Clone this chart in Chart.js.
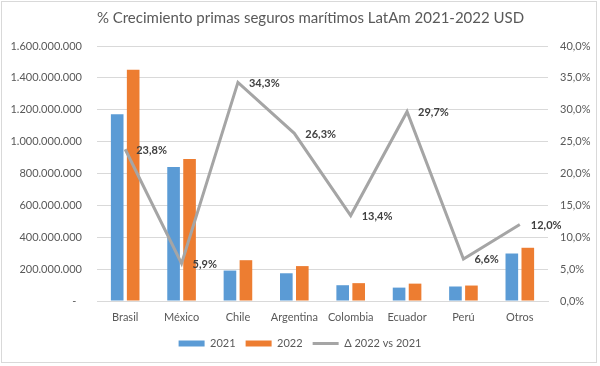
<!DOCTYPE html>
<html><head><meta charset="utf-8">
<script src="https://cdn.jsdelivr.net/npm/chart.js@4.4.1/dist/chart.umd.min.js"></script>
<style>html,body{margin:0;padding:0;background:#fff;} canvas{display:block}</style>
</head><body>
<canvas id="c" width="600" height="366"></canvas>
<script>
const categories = ['Brasil', 'México', 'Chile', 'Argentina', 'Colombia', 'Ecuador', 'Perú', 'Otros'];
const primas2021 = [1172000000, 841000000, 191000000, 174000000, 99000000, 84000000, 91000000, 298000000];
const primas2022 = [1451000000, 891000000, 256000000, 219000000, 112000000, 109000000, 97000000, 334000000];
const crecimiento = [23.8, 5.9, 34.3, 26.3, 13.4, 29.7, 6.6, 12.0];
const seriesNames = ['2021', '2022', 'Δ 2022 vs 2021'];
const leftAxisMax = 1600000000, leftAxisStep = 200000000;
const rightAxisMax = 40, rightAxisStep = 5;
const titleText = '% Crecimiento primas seguros marítimos LatAm 2021-2022 USD';

const FONT = 'Lato, "Open Sans", sans-serif';
const TXT = '#595959';
const pct = v => v.toFixed(1).replace('.', ',') + '%';

const framePlugin = {
  id: 'frame',
  beforeDraw(chart) {
    const ctx = chart.ctx;
    ctx.save();
    ctx.fillStyle = '#fff';
    ctx.fillRect(0, 0, chart.width, chart.height);
    ctx.strokeStyle = '#D9D9D9';
    ctx.lineWidth = 1;
    ctx.strokeRect(1.5, 1.5, 595, 361);
    ctx.restore();
  },
  afterLayout(chart) {
    const t = chart.titleBlock;
    if (t) { t.left += 21; }
  }
};

const lineLabels = {
  id: 'lineLabels',
  afterDatasetsDraw(chart) {
    const meta = chart.getDatasetMeta(2);
    const ctx = chart.ctx;
    ctx.save();
    ctx.font = 'bold 11px ' + FONT;
    ctx.fillStyle = '#404040';
    ctx.textAlign = 'left';
    ctx.textBaseline = 'middle';
    meta.data.forEach((pt, i) => {
      ctx.fillText(pct(crecimiento[i]), pt.x + 11, pt.y + 1);
    });
    ctx.restore();
  }
};

new Chart(document.getElementById('c'), {
  type: 'bar',
  data: {
    labels: categories,
    datasets: [
      { label: seriesNames[0], data: primas2021, backgroundColor: '#5B9BD5', yAxisID: 'y', order: 1,
        categoryPercentage: 0.567, barPercentage: 0.79, pointStyle: 'rect' },
      { label: seriesNames[1], data: primas2022, backgroundColor: '#ED7D31', yAxisID: 'y', order: 1,
        categoryPercentage: 0.567, barPercentage: 0.79, pointStyle: 'rect' },
      { type: 'line', label: seriesNames[2], data: crecimiento, yAxisID: 'y1', order: 0,
        borderColor: '#A5A5A5', backgroundColor: '#A5A5A5', borderWidth: 3, tension: 0,
        pointRadius: 0, pointHoverRadius: 0, pointStyle: 'line', pointBorderWidth: 3, pointBorderColor: '#A5A5A5' }
    ]
  },
  options: {
    responsive: false,
    animation: false,
    devicePixelRatio: 1,
    layout: { padding: { left: 4, right: 4, top: 0, bottom: 7 } },
    plugins: {
      tooltip: { enabled: false },
      title: {
        display: true, text: titleText, color: TXT,
        font: { family: FONT, size: 15, weight: 'normal' },
        padding: { top: 9, bottom: 19 }
      },
      legend: {
        position: 'bottom',
        labels: {
          usePointStyle: true, pointStyleWidth: 26, boxHeight: 6,
          color: TXT, font: { family: FONT, size: 11 }, padding: 10,
          sort: (a, b) => a.datasetIndex - b.datasetIndex
        }
      }
    },
    scales: {
      x: {
        grid: { display: false, drawTicks: false },
        border: { display: true, color: '#D9D9D9' },
        ticks: { color: TXT, font: { family: FONT, size: 11 }, padding: 10, maxRotation: 0 },
        afterFit(s) { s.height = 27; }
      },
      y: {
        position: 'left', min: 0, max: leftAxisMax,
        grid: { color: '#D9D9D9', drawTicks: false },
        border: { display: false },
        ticks: {
          stepSize: leftAxisStep, color: TXT, font: { family: FONT, size: 11 }, padding: 15,
          callback: v => v === 0 ? '-  ' : v.toLocaleString('de-DE')
        },
        afterFit(s) { s.width = 93; }
      },
      y1: {
        position: 'right', min: 0, max: rightAxisMax,
        grid: { drawOnChartArea: false, drawTicks: false },
        border: { display: false },
        ticks: {
          stepSize: rightAxisStep, color: TXT, font: { family: FONT, size: 11 }, padding: 12,
          callback: v => pct(v)
        },
        afterFit(s) { s.width = 48; }
      }
    }
  },
  plugins: [framePlugin, lineLabels]
});
</script>
</body></html>
